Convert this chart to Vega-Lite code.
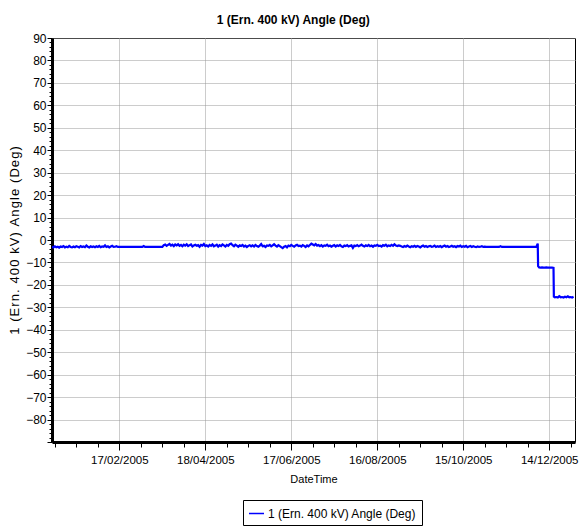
{
  "$schema": "https://vega.github.io/schema/vega-lite/v6.json",
  "width": 523,
  "height": 404,
  "autosize": "none",
  "padding": {"left": 52, "top": 38, "right": 6, "bottom": 84},
  "background": "white",
  "config": {
    "font": "Liberation Sans",
    "view": {"stroke": "black", "strokeWidth": 1}
  },
  "title": {
    "text": "1 (Ern. 400 kV) Angle (Deg)",
    "fontSize": 12,
    "fontWeight": "bold",
    "font": "Liberation Sans",
    "color": "black",
    "frame": "bounds",
    "anchor": "middle",
    "offset": 5
  },
  "data": {
    "values": [
      {"t":"2005-01-01","v":-3.0},{"t":"2005-01-02","v":-3.3},{"t":"2005-01-03","v":-2.8},{"t":"2005-01-04","v":-3.2},{"t":"2005-01-05","v":-3.0},{"t":"2005-01-06","v":-3.4},{"t":"2005-01-07","v":-2.9},{"t":"2005-01-08","v":-3.1},{"t":"2005-01-09","v":-2.7},{"t":"2005-01-10","v":-3.3},{"t":"2005-01-11","v":-3.0},{"t":"2005-01-12","v":-3.2},{"t":"2005-01-13","v":-2.6},{"t":"2005-01-14","v":-3.1},{"t":"2005-01-15","v":-3.3},{"t":"2005-01-16","v":-2.9},{"t":"2005-01-17","v":-3.2},{"t":"2005-01-18","v":-2.8},{"t":"2005-01-19","v":-3.0},{"t":"2005-01-20","v":-3.3},{"t":"2005-01-21","v":-2.7},{"t":"2005-01-22","v":-3.1},{"t":"2005-01-23","v":-2.9},{"t":"2005-01-24","v":-3.2},{"t":"2005-01-25","v":-2.5},{"t":"2005-01-26","v":-3.0},{"t":"2005-01-27","v":-3.3},{"t":"2005-01-28","v":-2.8},{"t":"2005-01-29","v":-3.1},{"t":"2005-01-30","v":-2.9},{"t":"2005-01-31","v":-3.2},
      {"t":"2005-02-01","v":-2.8},{"t":"2005-02-02","v":-3.1},{"t":"2005-02-03","v":-2.6},{"t":"2005-02-04","v":-3.2},{"t":"2005-02-05","v":-2.9},{"t":"2005-02-06","v":-3.0},{"t":"2005-02-07","v":-2.4},{"t":"2005-02-08","v":-3.1},{"t":"2005-02-09","v":-2.8},{"t":"2005-02-10","v":-3.3},{"t":"2005-02-11","v":-2.9},{"t":"2005-02-12","v":-2.6},{"t":"2005-02-13","v":-3.1},{"t":"2005-02-14","v":-3.0},{"t":"2005-02-15","v":-2.8},{"t":"2005-02-16","v":-3.1},{"t":"2005-02-17","v":-3.1},
      {"t":"2005-03-05","v":-3.1},{"t":"2005-03-06","v":-2.7},{"t":"2005-03-07","v":-3.1},{"t":"2005-03-19","v":-3.1},
      {"t":"2005-03-20","v":-2.3},{"t":"2005-03-21","v":-2.0},{"t":"2005-03-22","v":-2.6},{"t":"2005-03-23","v":-2.2},{"t":"2005-03-24","v":-1.8},{"t":"2005-03-25","v":-2.5},{"t":"2005-03-26","v":-2.1},{"t":"2005-03-27","v":-2.7},{"t":"2005-03-28","v":-2.0},{"t":"2005-03-29","v":-2.4},{"t":"2005-03-30","v":-1.9},{"t":"2005-03-31","v":-2.6},
      {"t":"2005-04-01","v":-2.2},{"t":"2005-04-02","v":-2.8},{"t":"2005-04-03","v":-2.1},{"t":"2005-04-04","v":-2.5},{"t":"2005-04-05","v":-1.9},{"t":"2005-04-06","v":-2.7},{"t":"2005-04-07","v":-2.3},{"t":"2005-04-08","v":-2.0},{"t":"2005-04-09","v":-2.9},{"t":"2005-04-10","v":-2.4},{"t":"2005-04-11","v":-2.1},{"t":"2005-04-12","v":-2.6},{"t":"2005-04-13","v":-2.3},{"t":"2005-04-14","v":-3.0},{"t":"2005-04-15","v":-2.2},{"t":"2005-04-16","v":-2.5},{"t":"2005-04-17","v":-1.8},{"t":"2005-04-18","v":-2.7},{"t":"2005-04-19","v":-2.4},{"t":"2005-04-20","v":-2.9},{"t":"2005-04-21","v":-2.2},{"t":"2005-04-22","v":-2.6},{"t":"2005-04-23","v":-2.0},{"t":"2005-04-24","v":-2.8},{"t":"2005-04-25","v":-2.5},{"t":"2005-04-26","v":-2.1},{"t":"2005-04-27","v":-2.9},{"t":"2005-04-28","v":-2.3},{"t":"2005-04-29","v":-2.7},{"t":"2005-04-30","v":-2.0},
      {"t":"2005-05-01","v":-2.4},{"t":"2005-05-02","v":-2.9},{"t":"2005-05-03","v":-2.2},{"t":"2005-05-04","v":-2.6},{"t":"2005-05-05","v":-1.9},{"t":"2005-05-06","v":-1.6},{"t":"2005-05-07","v":-2.3},{"t":"2005-05-08","v":-2.8},{"t":"2005-05-09","v":-2.1},{"t":"2005-05-10","v":-2.5},{"t":"2005-05-11","v":-3.0},{"t":"2005-05-12","v":-2.4},{"t":"2005-05-13","v":-2.7},{"t":"2005-05-14","v":-2.2},{"t":"2005-05-15","v":-2.9},{"t":"2005-05-16","v":-2.5},{"t":"2005-05-17","v":-3.1},{"t":"2005-05-18","v":-2.6},{"t":"2005-05-19","v":-2.3},{"t":"2005-05-20","v":-2.8},{"t":"2005-05-21","v":-2.4},{"t":"2005-05-22","v":-2.9},{"t":"2005-05-23","v":-2.2},{"t":"2005-05-24","v":-2.7},{"t":"2005-05-25","v":-3.0},{"t":"2005-05-26","v":-2.5},{"t":"2005-05-27","v":-1.8},{"t":"2005-05-28","v":-2.8},{"t":"2005-05-29","v":-2.6},{"t":"2005-05-30","v":-3.1},{"t":"2005-05-31","v":-2.4},
      {"t":"2005-06-01","v":-2.6},{"t":"2005-06-02","v":-2.2},{"t":"2005-06-03","v":-2.8},{"t":"2005-06-04","v":-2.4},{"t":"2005-06-05","v":-1.9},{"t":"2005-06-06","v":-2.5},{"t":"2005-06-07","v":-2.9},{"t":"2005-06-08","v":-2.3},{"t":"2005-06-09","v":-2.7},{"t":"2005-06-10","v":-3.2},{"t":"2005-06-11","v":-3.6},{"t":"2005-06-12","v":-3.0},{"t":"2005-06-13","v":-2.7},{"t":"2005-06-14","v":-3.3},{"t":"2005-06-15","v":-2.5},{"t":"2005-06-16","v":-2.8},{"t":"2005-06-17","v":-2.2},{"t":"2005-06-18","v":-2.6},{"t":"2005-06-19","v":-3.0},{"t":"2005-06-20","v":-2.4},{"t":"2005-06-21","v":-2.1},{"t":"2005-06-22","v":-2.7},{"t":"2005-06-23","v":-2.5},{"t":"2005-06-24","v":-2.9},{"t":"2005-06-25","v":-2.3},{"t":"2005-06-26","v":-2.6},{"t":"2005-06-27","v":-3.1},{"t":"2005-06-28","v":-2.4},{"t":"2005-06-29","v":-2.8},{"t":"2005-06-30","v":-2.2},
      {"t":"2005-07-01","v":-1.6},{"t":"2005-07-02","v":-2.0},{"t":"2005-07-03","v":-2.4},{"t":"2005-07-04","v":-1.8},{"t":"2005-07-05","v":-2.5},{"t":"2005-07-06","v":-2.2},{"t":"2005-07-07","v":-2.7},{"t":"2005-07-08","v":-2.3},{"t":"2005-07-09","v":-2.9},{"t":"2005-07-10","v":-2.4},{"t":"2005-07-11","v":-2.6},{"t":"2005-07-12","v":-2.1},{"t":"2005-07-13","v":-2.8},{"t":"2005-07-14","v":-2.5},{"t":"2005-07-15","v":-3.0},{"t":"2005-07-16","v":-2.6},{"t":"2005-07-17","v":-2.3},{"t":"2005-07-18","v":-2.9},{"t":"2005-07-19","v":-2.4},{"t":"2005-07-20","v":-2.7},{"t":"2005-07-21","v":-2.2},{"t":"2005-07-22","v":-2.8},{"t":"2005-07-23","v":-3.1},{"t":"2005-07-24","v":-2.5},{"t":"2005-07-25","v":-2.7},{"t":"2005-07-26","v":-2.3},{"t":"2005-07-27","v":-2.9},{"t":"2005-07-28","v":-2.6},{"t":"2005-07-29","v":-2.4},{"t":"2005-07-30","v":-3.5},{"t":"2005-07-31","v":-2.5},
      {"t":"2005-08-01","v":-2.7},{"t":"2005-08-02","v":-2.3},{"t":"2005-08-03","v":-2.8},{"t":"2005-08-04","v":-2.5},{"t":"2005-08-05","v":-2.1},{"t":"2005-08-06","v":-2.6},{"t":"2005-08-07","v":-2.9},{"t":"2005-08-08","v":-2.4},{"t":"2005-08-09","v":-2.7},{"t":"2005-08-10","v":-2.2},{"t":"2005-08-11","v":-2.8},{"t":"2005-08-12","v":-2.5},{"t":"2005-08-13","v":-3.0},{"t":"2005-08-14","v":-2.4},{"t":"2005-08-15","v":-2.6},{"t":"2005-08-16","v":-2.2},{"t":"2005-08-17","v":-2.7},{"t":"2005-08-18","v":-2.5},{"t":"2005-08-19","v":-2.9},{"t":"2005-08-20","v":-2.3},{"t":"2005-08-21","v":-2.6},{"t":"2005-08-22","v":-2.1},{"t":"2005-08-23","v":-2.8},{"t":"2005-08-24","v":-2.4},{"t":"2005-08-25","v":-2.7},{"t":"2005-08-26","v":-2.2},{"t":"2005-08-27","v":-2.6},{"t":"2005-08-28","v":-1.9},{"t":"2005-08-29","v":-2.5},{"t":"2005-08-30","v":-2.7},{"t":"2005-08-31","v":-2.4},
      {"t":"2005-09-01","v":-2.6},{"t":"2005-09-02","v":-2.9},{"t":"2005-09-03","v":-3.1},{"t":"2005-09-04","v":-2.7},{"t":"2005-09-05","v":-3.0},{"t":"2005-09-06","v":-2.5},{"t":"2005-09-07","v":-2.9},{"t":"2005-09-08","v":-3.2},{"t":"2005-09-09","v":-2.8},{"t":"2005-09-10","v":-3.0},{"t":"2005-09-11","v":-2.6},{"t":"2005-09-12","v":-3.1},{"t":"2005-09-13","v":-2.7},{"t":"2005-09-14","v":-2.9},{"t":"2005-09-15","v":-3.3},{"t":"2005-09-16","v":-2.8},{"t":"2005-09-17","v":-2.5},{"t":"2005-09-18","v":-3.0},{"t":"2005-09-19","v":-2.7},{"t":"2005-09-20","v":-3.1},{"t":"2005-09-21","v":-2.8},{"t":"2005-09-22","v":-2.6},{"t":"2005-09-23","v":-3.0},{"t":"2005-09-24","v":-2.9},{"t":"2005-09-25","v":-2.5},{"t":"2005-09-26","v":-3.1},{"t":"2005-09-27","v":-2.8},{"t":"2005-09-28","v":-3.0},{"t":"2005-09-29","v":-2.7},{"t":"2005-09-30","v":-3.2},
      {"t":"2005-10-01","v":-2.8},{"t":"2005-10-02","v":-2.5},{"t":"2005-10-03","v":-3.0},{"t":"2005-10-04","v":-2.7},{"t":"2005-10-05","v":-3.1},{"t":"2005-10-06","v":-2.9},{"t":"2005-10-07","v":-2.6},{"t":"2005-10-08","v":-3.0},{"t":"2005-10-09","v":-2.8},{"t":"2005-10-10","v":-3.2},{"t":"2005-10-11","v":-2.7},{"t":"2005-10-12","v":-2.9},{"t":"2005-10-13","v":-2.5},{"t":"2005-10-14","v":-3.1},{"t":"2005-10-15","v":-2.8},{"t":"2005-10-16","v":-3.0},{"t":"2005-10-17","v":-2.6},{"t":"2005-10-18","v":-3.2},{"t":"2005-10-19","v":-2.9},{"t":"2005-10-20","v":-2.7},{"t":"2005-10-21","v":-3.1},{"t":"2005-10-22","v":-2.8},{"t":"2005-10-23","v":-3.0},{"t":"2005-10-24","v":-3.2},{"t":"2005-10-25","v":-2.9},{"t":"2005-10-26","v":-3.1},{"t":"2005-10-27","v":-3.0},{"t":"2005-10-28","v":-2.8},{"t":"2005-10-29","v":-3.1},{"t":"2005-10-30","v":-3.0},{"t":"2005-10-31","v":-3.1},
      {"t":"2005-11-01","v":-3.1},{"t":"2005-11-09","v":-3.1},{"t":"2005-11-10","v":-2.8},{"t":"2005-11-11","v":-3.1},{"t":"2005-12-05","v":-3.1},{"t":"2005-12-06","v":-1.6},{"t":"2005-12-06T06:00:00Z","v":-11.6},
      {"t":"2005-12-07","v":-12.2},{"t":"2005-12-08","v":-12.3},{"t":"2005-12-09","v":-12.2},{"t":"2005-12-10","v":-12.3},{"t":"2005-12-11","v":-12.3},{"t":"2005-12-12","v":-12.2},{"t":"2005-12-13","v":-12.3},{"t":"2005-12-14","v":-12.3},{"t":"2005-12-15","v":-12.3},{"t":"2005-12-16","v":-12.3},{"t":"2005-12-17","v":-12.4},{"t":"2005-12-17T06:00:00Z","v":-25.2},
      {"t":"2005-12-18","v":-25.5},{"t":"2005-12-19","v":-25.4},{"t":"2005-12-20","v":-25.6},{"t":"2005-12-21","v":-25.0},{"t":"2005-12-22","v":-25.5},{"t":"2005-12-23","v":-25.4},{"t":"2005-12-24","v":-25.6},{"t":"2005-12-25","v":-25.3},{"t":"2005-12-26","v":-25.5},{"t":"2005-12-27","v":-25.1},{"t":"2005-12-28","v":-25.5},{"t":"2005-12-29","v":-25.4},{"t":"2005-12-30","v":-25.6},{"t":"2005-12-31","v":-25.3}
    ]
  },
  "transform": [{"calculate": "'1 (Ern. 400 kV) Angle (Deg)'", "as": "series"}],
  "mark": {"type": "line", "strokeWidth": 2.2, "clip": true},
  "encoding": {
    "x": {
      "field": "t",
      "type": "temporal",
      "scale": {
        "type": "utc",
        "domain": [{"year": 2005, "month": 1, "date": 1, "utc": true}, {"year": 2006, "month": 1, "date": 1, "utc": true}]
      },
      "axis": {
        "title": "DateTime",
        "titleFont": "Liberation Sans",
        "titleFontSize": 11,
        "titleFontWeight": "normal",
        "titleColor": "black",
        "titlePadding": 8,
        "values": [
          {"year":2005,"month":1,"date":3,"utc":true},{"year":2005,"month":1,"date":18,"utc":true},{"year":2005,"month":2,"date":2,"utc":true},{"year":2005,"month":2,"date":17,"utc":true},
          {"year":2005,"month":3,"date":4,"utc":true},{"year":2005,"month":3,"date":19,"utc":true},{"year":2005,"month":4,"date":3,"utc":true},{"year":2005,"month":4,"date":18,"utc":true},
          {"year":2005,"month":5,"date":3,"utc":true},{"year":2005,"month":5,"date":18,"utc":true},{"year":2005,"month":6,"date":2,"utc":true},{"year":2005,"month":6,"date":17,"utc":true},
          {"year":2005,"month":7,"date":2,"utc":true},{"year":2005,"month":7,"date":17,"utc":true},{"year":2005,"month":8,"date":1,"utc":true},{"year":2005,"month":8,"date":16,"utc":true},
          {"year":2005,"month":8,"date":31,"utc":true},{"year":2005,"month":9,"date":15,"utc":true},{"year":2005,"month":9,"date":30,"utc":true},{"year":2005,"month":10,"date":15,"utc":true},
          {"year":2005,"month":10,"date":30,"utc":true},{"year":2005,"month":11,"date":14,"utc":true},{"year":2005,"month":11,"date":29,"utc":true},{"year":2005,"month":12,"date":14,"utc":true},
          {"year":2005,"month":12,"date":29,"utc":true}
        ],
        "labelExpr": "(datum.value - 1104710400000) % 5184000000 === 3888000000 ? utcFormat(datum.value, '%d/%m/%Y') : ''",
        "labelFont": "Liberation Sans",
        "labelFontSize": 11.5,
        "labelColor": "black",
        "labelPadding": 4,
        "labelFlush": false,
        "labelOverlap": false,
        "domainColor": "black",
        "domainWidth": 3,
        "tickColor": "black",
        "tickWidth": 1,
        "tickSize": {"condition": {"test": "(datum.value - 1104710400000) % 5184000000 === 3888000000", "value": 8}, "value": 5},
        "grid": true,
        "gridColor": "#999999",
        "gridDash": [1, 1],
        "gridWidth": 1,
        "gridOpacity": {"condition": {"test": "(datum.value - 1104710400000) % 5184000000 === 3888000000", "value": 1}, "value": 0}
      }
    },
    "y": {
      "field": "v",
      "type": "quantitative",
      "scale": {"domain": [-90, 90], "nice": false, "zero": false},
      "axis": {
        "title": "1\u200a \u200a(\u200aE\u200ar\u200an\u200a.\u200a \u200a4\u200a0\u200a0\u200a \u200ak\u200aV\u200a)\u200a \u200aA\u200an\u200ag\u200al\u200ae\u200a \u200a(\u200aD\u200ae\u200ag\u200a)",
        "titleFont": "Liberation Sans",
        "titleFontSize": 13,
        "titleFontWeight": "normal",
        "titleColor": "black",
        "titlePadding": 4,
        "values": [-90,-88,-86,-84,-82,-80,-78,-76,-74,-72,-70,-68,-66,-64,-62,-60,-58,-56,-54,-52,-50,-48,-46,-44,-42,-40,-38,-36,-34,-32,-30,-28,-26,-24,-22,-20,-18,-16,-14,-12,-10,-8,-6,-4,-2,0,2,4,6,8,10,12,14,16,18,20,22,24,26,28,30,32,34,36,38,40,42,44,46,48,50,52,54,56,58,60,62,64,66,68,70,72,74,76,78,80,82,84,86,88,90],
        "labelExpr": "datum.value % 10 === 0 && datum.value > -90 ? datum.label : ''",
        "labelFont": "Liberation Sans",
        "labelFontSize": 12,
        "labelColor": "black",
        "labelPadding": 1,
        "labelFlush": false,
        "labelOverlap": false,
        "domainColor": "black",
        "domainWidth": 3,
        "tickColor": "black",
        "tickWidth": 1,
        "tickSize": {"condition": {"test": "datum.value % 10 === 0", "value": 5}, "value": 3},
        "grid": true,
        "gridColor": "#999999",
        "gridDash": [1, 1],
        "gridWidth": 1,
        "gridOpacity": {"condition": {"test": "datum.value % 10 === 0", "value": 1}, "value": 0}
      }
    },
    "color": {
      "field": "series",
      "type": "nominal",
      "scale": {"range": ["#0000ff"]},
      "legend": {
        "title": null,
        "orient": "none",
        "legendX": 191,
        "legendY": 462,
        "padding": 5,
        "strokeColor": "black",
        "fillColor": "white",
        "cornerRadius": 0,
        "symbolType": "stroke",
        "symbolSize": 225,
        "symbolStrokeWidth": 1.5,
        "labelOffset": 3,
        "labelFont": "Liberation Sans",
        "labelFontSize": 12,
        "labelColor": "black",
        "labelLimit": 400
      }
    }
  }
}
